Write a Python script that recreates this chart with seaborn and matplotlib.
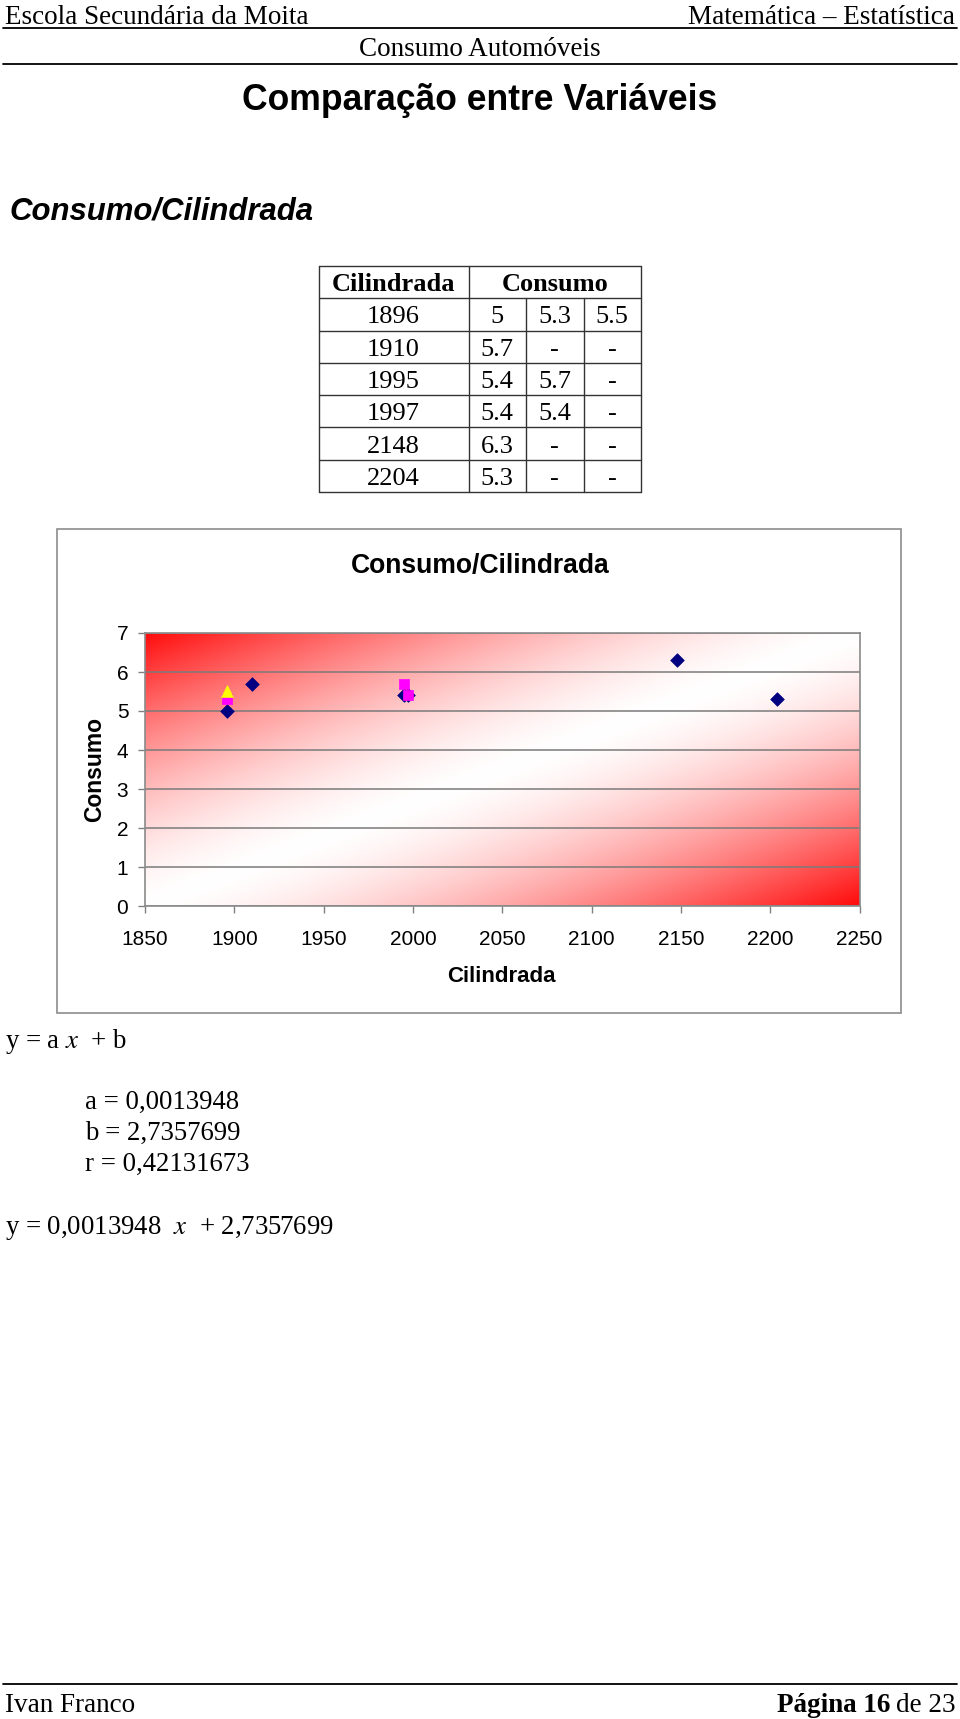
import numpy as np
import pandas as pd
import matplotlib
matplotlib.use("Agg")
import matplotlib.pyplot as plt
import seaborn as sns
from matplotlib.patches import Rectangle

# ---------------- data ----------------
cilindrada = [1896, 1910, 1995, 1997, 2148, 2204]
consumo_1 = [5.0, 5.7, 5.4, 5.4, 6.3, 5.3]
consumo_2 = [5.3, None, 5.7, 5.4, None, None]
consumo_3 = [5.5, None, None, None, None, None]
x_ticks = [1850, 1900, 1950, 2000, 2050, 2100, 2150, 2200, 2250]
y_ticks = [0, 1, 2, 3, 4, 5, 6, 7]
coef_a = "0,0013948"
coef_b = "2,7357699"
coef_r = "0,42131673"

sns.set_style("white")
plt.rcParams["font.family"] = ["Liberation Sans", "DejaVu Sans"]
plt.rcParams["mathtext.fontset"] = "stix"
for k in ("text.color", "axes.labelcolor", "xtick.color", "ytick.color"):
    plt.rcParams[k] = "black"

W, H = 960, 1719
fig = plt.figure(figsize=(W / 100, H / 100), dpi=100)
fig.patch.set_facecolor("white")

# page axes in pixel coordinates
page = fig.add_axes([0, 0, 1, 1])
page.set_xlim(0, W)
page.set_ylim(H, 0)
page.axis("off")

serif = ["Liberation Serif", "DejaVu Serif"]
fs_serif = 19.3

# header
page.text(5, 17, "Escola Secundária da Moita", family=serif, fontsize=19.5, va="center", ha="left")
page.text(955, 17, "Matemática – Estatística", family=serif, fontsize=19.5, va="center", ha="right")
page.plot([3, 957], [28.5, 28.5], color="black", lw=1.3)
page.text(480, 50, "Consumo Automóveis", family=serif, fontsize=19.5, va="center", ha="center")
page.plot([3, 957], [64.5, 64.5], color="black", lw=1.3)
page.text(480, 100, "Comparação entre Variáveis", fontsize=25.6, fontweight="bold", va="center", ha="center")
page.text(9, 211, "Consumo/Cilindrada", fontsize=22.4, fontweight="bold", style="italic", va="center", ha="left")

# table
tx = [318.5, 468.5, 526, 583.5, 641]
ty0, rh = 266, 32.3
nrows = len(cilindrada) + 1
for i in range(nrows + 1):
    y = ty0 + i * rh
    page.plot([tx[0], tx[-1]], [y, y], color="#333333", lw=1)
for xv in (tx[0], tx[1], tx[-1]):
    page.plot([xv, xv], [ty0, ty0 + nrows * rh], color="#333333", lw=1)
for xv in (tx[2], tx[3]):
    page.plot([xv, xv], [ty0 + rh, ty0 + nrows * rh], color="#333333", lw=1)
page.text((tx[0] + tx[1]) / 2, ty0 + rh / 2 + 2, "Cilindrada", family=serif, fontsize=19,
          fontweight="bold", ha="center", va="center")
page.text((tx[1] + tx[-1]) / 2, ty0 + rh / 2 + 2, "Consumo", family=serif, fontsize=19,
          fontweight="bold", ha="center", va="center")
for r, (c, v1, v2, v3) in enumerate(zip(cilindrada, consumo_1, consumo_2, consumo_3)):
    yc = ty0 + (r + 1.5) * rh + 3
    page.text((tx[0] + tx[1]) / 2, yc, f"{c}", family=serif, fontsize=19, ha="center", va="center")
    for k, v in enumerate((v1, v2, v3)):
        s = "-" if v is None else f"{v:g}"
        page.text((tx[k + 1] + tx[k + 2]) / 2, yc, s, family=serif, fontsize=19, ha="center", va="center")

# chart box
page.add_patch(Rectangle((57, 529), 844, 484, facecolor="white", edgecolor="#8c8c8c", lw=1.2))
page.text(480.5, 566, "Consumo/Cilindrada", fontsize=19.1, fontweight="bold", ha="center", va="center")

# equations
page.text(5, 1042, "y = a $x$  + b", family=serif, fontsize=fs_serif, ha="left", va="center")
page.text(85, 1102, f"a = {coef_a}", family=serif, fontsize=fs_serif, ha="left", va="center")
page.text(85, 1133, f"b = {coef_b}", family=serif, fontsize=fs_serif, ha="left", va="center")
page.text(85, 1164, f"r = {coef_r}", family=serif, fontsize=fs_serif, ha="left", va="center")
page.text(5, 1228, f"y = {coef_a}  $x$  + {coef_b}", family=serif, fontsize=fs_serif, ha="left", va="center")

# footer
page.plot([3, 957], [1684, 1684], color="black", lw=1.3)
page.text(5, 1706, "Ivan Franco", family=serif, fontsize=19.5, ha="left", va="center")
page.text(955, 1706, "de 23", family=serif, fontsize=19.5, ha="right", va="center")
page.text(890, 1706, "Página 16", family=serif, fontsize=19.5, fontweight="bold", ha="right", va="center")

# ---------------- scatter chart ----------------
L, R, T, B = 145, 859.5, 633, 906
ax = fig.add_axes([L / W, 1 - B / H, (R - L) / W, (B - T) / H])
ax.set_xlim(x_ticks[0], x_ticks[-1])
ax.set_ylim(y_ticks[0], y_ticks[-1])

# diagonal red/white gradient background
nx, ny = 400, 200
xn, yn = np.meshgrid(np.linspace(0, 1, nx), np.linspace(0, 1, ny))
t = np.abs(xn - yn)
f = np.clip(t, 0, 1) ** 1.5
red = np.array([1.0, 0.04, 0.04])
img = (1 - f)[..., None] * np.ones(3) + f[..., None] * red
ax.imshow(img, extent=[x_ticks[0], x_ticks[-1], y_ticks[0], y_ticks[-1]], origin="lower",
          aspect="auto", zorder=0, interpolation="bilinear")

ax.set_axisbelow(True)
ax.yaxis.grid(True, color="#7a7a7a", lw=1.1)
ax.xaxis.grid(False)

df1 = pd.DataFrame({"Cilindrada": cilindrada, "Consumo": consumo_1})
df2 = pd.DataFrame({"Cilindrada": cilindrada, "Consumo": consumo_2}).dropna()
df3 = pd.DataFrame({"Cilindrada": cilindrada, "Consumo": consumo_3}).dropna()
sns.scatterplot(data=df1, x="Cilindrada", y="Consumo", marker="D", s=48, color="#000080",
                edgecolor="#000080", linewidth=0.5, ax=ax, zorder=3)
sns.scatterplot(data=df2, x="Cilindrada", y="Consumo", marker="s", s=52, color="#FF00FF",
                edgecolor="#FF00FF", linewidth=0.5, ax=ax, zorder=4)
sns.scatterplot(data=df3, x="Cilindrada", y="Consumo", marker="^", s=72, color="#FFFF00",
                edgecolor="#FFFF00", linewidth=0.5, ax=ax, zorder=5)

ax.set_xticks(x_ticks)
ax.set_yticks(y_ticks)
ax.tick_params(axis="both", direction="out", length=5, width=1, color="#808080", labelsize=15)
ax.tick_params(axis="x", pad=12, bottom=True)
ax.tick_params(axis="y", pad=7, left=True)
for sp in ax.spines.values():
    sp.set_color("#8a8a8a")
    sp.set_linewidth(1.2)
ax.set_xlabel("Cilindrada", fontsize=16, fontweight="bold")
ax.set_ylabel("Consumo", fontsize=16.5, fontweight="bold")
ax.xaxis.set_label_coords((501 - L) / (R - L), (B - 966) / (B - T))
ax.yaxis.set_label_coords((106 - L) / (R - L), 0.5)

fig.savefig("out.png", dpi=100, facecolor="white")
